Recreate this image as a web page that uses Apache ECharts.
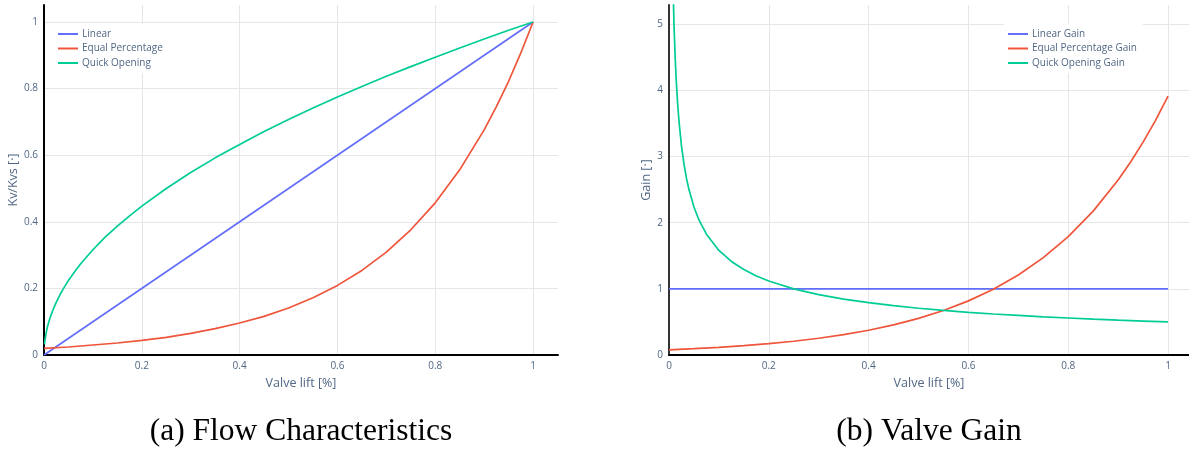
<!DOCTYPE html>
<html>
<head>
<meta charset="utf-8">
<script src="https://cdn.jsdelivr.net/npm/echarts@6/dist/echarts.min.js"></script>
<style>
  html, body { margin: 0; padding: 0; background: #fff; }
  #chart { width: 1189px; height: 450px; }
</style>
</head>
<body>
<div id="chart"></div>
<script>
// Valve lift sample positions (fraction of full stroke)
const liftLinear = [0, 1];
const kvLinear = [0, 1];

const liftEqual = [0, 0.05, 0.1, 0.15, 0.2, 0.25, 0.3, 0.35, 0.4, 0.45, 0.5,
  0.55, 0.6, 0.65, 0.7, 0.75, 0.8, 0.85, 0.9, 0.925, 0.95, 0.975, 1];
const kvEqual = [0.020, 0.024, 0.030, 0.036, 0.044, 0.053, 0.065, 0.079, 0.096, 0.116, 0.141,
  0.172, 0.209, 0.254, 0.309, 0.376, 0.457, 0.556, 0.676, 0.746, 0.822, 0.907, 1.0];

const liftQuick = [0.001, 0.002, 0.005, 0.0075, 0.01, 0.0125, 0.015, 0.0175, 0.02, 0.025, 0.03,
  0.035, 0.04, 0.05, 0.06, 0.075, 0.1, 0.125, 0.15, 0.175, 0.2, 0.25, 0.3,
  0.35, 0.4, 0.45, 0.5, 0.55, 0.6, 0.65, 0.7, 0.75, 0.8, 0.85, 0.9, 0.95, 1];
const kvQuick = [0.032, 0.045, 0.071, 0.087, 0.100, 0.112, 0.122, 0.132, 0.141, 0.158, 0.173,
  0.187, 0.200, 0.224, 0.245, 0.274, 0.316, 0.354, 0.387, 0.418, 0.447, 0.500, 0.548,
  0.592, 0.632, 0.671, 0.707, 0.742, 0.775, 0.806, 0.837, 0.866, 0.894, 0.922, 0.949, 0.975, 1.0];

// Valve gain (slope of each characteristic)
const gainLinear = [1, 1];
const gainEqual = [0.078, 0.095, 0.116, 0.141, 0.171, 0.208, 0.253, 0.307, 0.374, 0.455, 0.553,
  0.673, 0.818, 0.995, 1.210, 1.471, 1.789, 2.175, 2.645, 2.918, 3.217, 3.547, 3.912];
const gainQuick = [15.81, 11.18, 7.07, 5.774, 5.000, 4.472, 4.082, 3.780, 3.536, 3.162, 2.887,
  2.673, 2.500, 2.236, 2.041, 1.826, 1.581, 1.414, 1.291, 1.195, 1.118, 1.000, 0.913,
  0.845, 0.791, 0.745, 0.707, 0.674, 0.645, 0.620, 0.598, 0.577, 0.559, 0.542, 0.527, 0.513, 0.500];

const seriesNamesLeft = ['Linear', 'Equal Percentage', 'Quick Opening'];
const seriesNamesRight = ['Linear Gain', 'Equal Percentage Gain', 'Quick Opening Gain'];
const captions = ['(a) Flow Characteristics', '(b) Valve Gain'];

const colors = ['#636efa', '#ef553b', '#00cc96'];
const tickColor = '#506784';
const gridColor = '#e6e6e6';
const uiFont = '"Open Sans", "Noto Sans", sans-serif';

const pairs = (xs, ys) => xs.map((x, i) => [x, ys[i]]);
const tickText = v => String(+v.toFixed(2));

function xAxisFor(gridIndex, max) {
  return {
    type: 'value', gridIndex, min: 0, max, interval: 0.2,
    name: 'Valve lift [%]', nameLocation: 'middle', nameGap: 22,
    nameTextStyle: { color: tickColor, fontSize: 12.5, fontFamily: uiFont },
    axisLine: { show: true, lineStyle: { color: '#000', width: 2 } },
    axisTick: { show: false },
    axisLabel: { color: tickColor, fontSize: 10, fontFamily: uiFont, margin: 6, showMaxLabel: false, formatter: tickText },
    splitLine: { show: true, showMaxLine: false, showMinLine: false, lineStyle: { color: gridColor, width: 1 } }
  };
}

function yAxisFor(gridIndex, max, interval, name, nameGap, lineColor) {
  return {
    type: 'value', gridIndex, min: 0, max, interval,
    name, nameLocation: 'middle', nameGap,
    nameTextStyle: { color: tickColor, fontSize: 12.5, fontFamily: uiFont },
    axisLine: { show: true, lineStyle: { color: lineColor, width: 2 } },
    axisTick: { show: false },
    axisLabel: { color: tickColor, fontSize: 10, fontFamily: uiFont, margin: 6, showMaxLabel: false, formatter: tickText },
    splitLine: { show: true, showMaxLine: false, showMinLine: false, lineStyle: { color: gridColor, width: 1 } }
  };
}

function line(name, data, color, axisIndex) {
  return {
    name, type: 'line', data, xAxisIndex: axisIndex, yAxisIndex: axisIndex,
    showSymbol: false, symbol: 'none', smooth: false, clip: true,
    lineStyle: { color, width: 1.7 }, itemStyle: { color },
    emphasis: { disabled: true }, animation: false
  };
}

function legendFor(left, names) {
  return {
    left, top: 24, orient: 'vertical', data: names,
    backgroundColor: '#fff', padding: [4, 6, 4, 4], itemGap: 2.5,
    itemWidth: 20, itemHeight: 2, icon: 'rect',
    textStyle: { color: tickColor, fontSize: 10, fontFamily: uiFont, lineHeight: 12, padding: [0, 0, 0, -1] }
  };
}

const captionFont = '31.5px "Liberation Serif", serif';

const chart = echarts.init(document.getElementById('chart'), null, { renderer: 'canvas' });
chart.setOption({
  backgroundColor: '#fff',
  animation: false,
  grid: [
    { left: 44, right: 631, top: 5, bottom: 95 },
    { left: 669, right: 0, top: 5, bottom: 95 }
  ],
  xAxis: [xAxisFor(0, 1.051), xAxisFor(1, 1.042)],
  yAxis: [
    yAxisFor(0, 1.051, 0.2, 'Kv/Kvs [·]', 22, '#000'),
    yAxisFor(1, 5.29, 1, 'Gain [·]', 13, '#333')
  ],
  legend: [legendFor(54, seriesNamesLeft), legendFor(1004, seriesNamesRight)],
  series: [
    line(seriesNamesLeft[0], pairs(liftLinear, kvLinear), colors[0], 0),
    line(seriesNamesLeft[1], pairs(liftEqual, kvEqual), colors[1], 0),
    line(seriesNamesLeft[2], pairs(liftQuick, kvQuick), colors[2], 0),
    line(seriesNamesRight[0], pairs(liftLinear, gainLinear), colors[0], 1),
    line(seriesNamesRight[1], pairs(liftEqual, gainEqual), colors[1], 1),
    line(seriesNamesRight[2], pairs(liftQuick, gainQuick), colors[2], 1)
  ],
  graphic: [
    { type: 'text', x: 301, y: 432, style: { text: captions[0], fill: '#000',
      font: captionFont, textAlign: 'center', textVerticalAlign: 'middle' } },
    { type: 'text', x: 929, y: 432, style: { text: captions[1], fill: '#000',
      font: captionFont, textAlign: 'center', textVerticalAlign: 'middle' } }
  ]
});
</script>
</body>
</html>
